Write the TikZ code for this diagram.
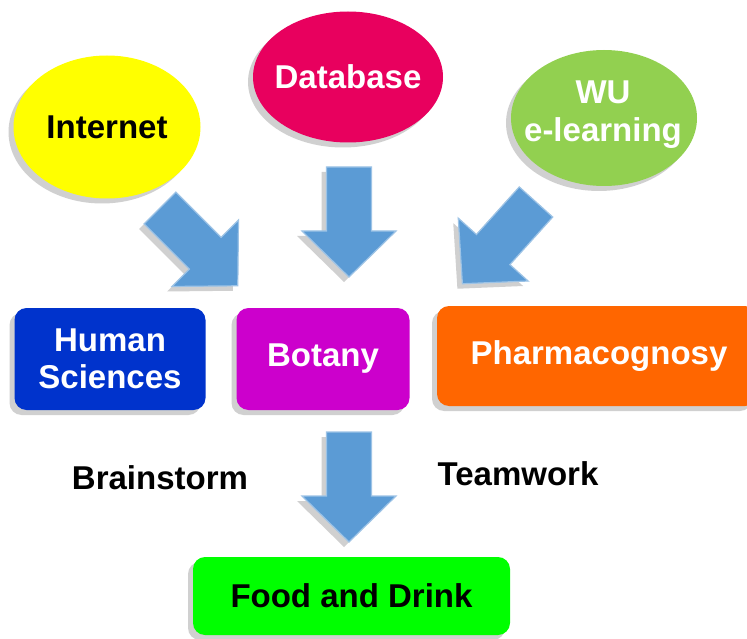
\documentclass[tikz,border=0pt]{standalone}
\usepackage{fontspec}
\setmainfont{Liberation Sans}
\usetikzlibrary{shapes.geometric,shadows}
\definecolor{cyel}{HTML}{FFFF00}
\definecolor{cdb}{HTML}{E8005E}
\definecolor{cwu}{HTML}{92D050}
\definecolor{chum}{HTML}{0033CC}
\definecolor{cbot}{HTML}{CC00CC}
\definecolor{cpha}{HTML}{FF6600}
\definecolor{cfood}{HTML}{00FF00}
\definecolor{carr}{HTML}{5B9BD5}
\definecolor{carredge}{HTML}{9DC3E6}
\tikzset{
  shd/.style={drop shadow={shadow xshift=-5pt,shadow yshift=-5pt,opacity=0.3,fill=black!60}},
  oval/.style={ellipse,shd,draw=none,inner sep=0pt},
  txt/.style={font=\fontsize{33}{38}\selectfont\bfseries,align=center,inner sep=0pt},
  box/.style={rectangle,rounded corners=12pt,shd,draw=none,font=\fontsize{33}{37}\selectfont\bfseries,align=center,text=white,inner sep=0pt},
  lbl/.style={font=\fontsize{33}{36}\selectfont\bfseries,inner sep=0pt},
  blk/.style={fill=carr,draw=carredge,line width=1.2pt,shd},
  pics/blockarrow/.style={code={
    \path[blk] (0,-22.5) -- (64,-22.5) -- (64,-47) -- (110,0) -- (64,47) -- (64,22.5) -- (0,22.5) -- cycle;
  }}
}
\begin{document}
\begin{tikzpicture}[x=1pt,y=-1pt]
\useasboundingbox[fill=white] (0,0) rectangle (747,639);
% ovals
\node[oval,fill=cyel,minimum width=187pt,minimum height=143pt] (internet) at (107,127) {};
\node[txt] (internett) at (internet.center) {Internet};
\node[oval,fill=cdb,minimum width=190pt,minimum height=131pt] (database) at (348,77) {};
\node[txt,text=white] (databaset) at (database.center) {Database};
\node[oval,fill=cwu,minimum width=186pt,minimum height=136pt] (wu) at (604,118) {};
\node[txt,text=white] (wut) at (603,115) {WU\\e-learning};
% block arrows
\pic[rotate=-45] (a1) at (160,208) {blockarrow};
\pic[rotate=-90] (a2) at (349,167) {blockarrow};
\pic[rotate=-132] (a3) at (536,202) {blockarrow};
% boxes
\node[box,fill=chum,minimum width=191pt,minimum height=102pt] (human) at (110,359) {Human\\Sciences};
\node[box,fill=cbot,minimum width=173pt,minimum height=102pt] (botany) at (323,359) {Botany};
\node[box,fill=cpha,minimum width=320pt,minimum height=100pt] (pharma) at (597,356) {\hspace*{4pt}Pharmacognosy};
% bottom arrow
\pic[rotate=-90] (a4) at (349,432) {blockarrow};
% labels
\node[lbl] (brain) at (160,478) {Brainstorm};
\node[lbl] (team) at (518,474) {Teamwork};
% food
\node[box,fill=cfood,text=black,minimum width=317pt,minimum height=78pt] (food) at (351.5,596) {Food and Drink};
\end{tikzpicture}
\end{document}
